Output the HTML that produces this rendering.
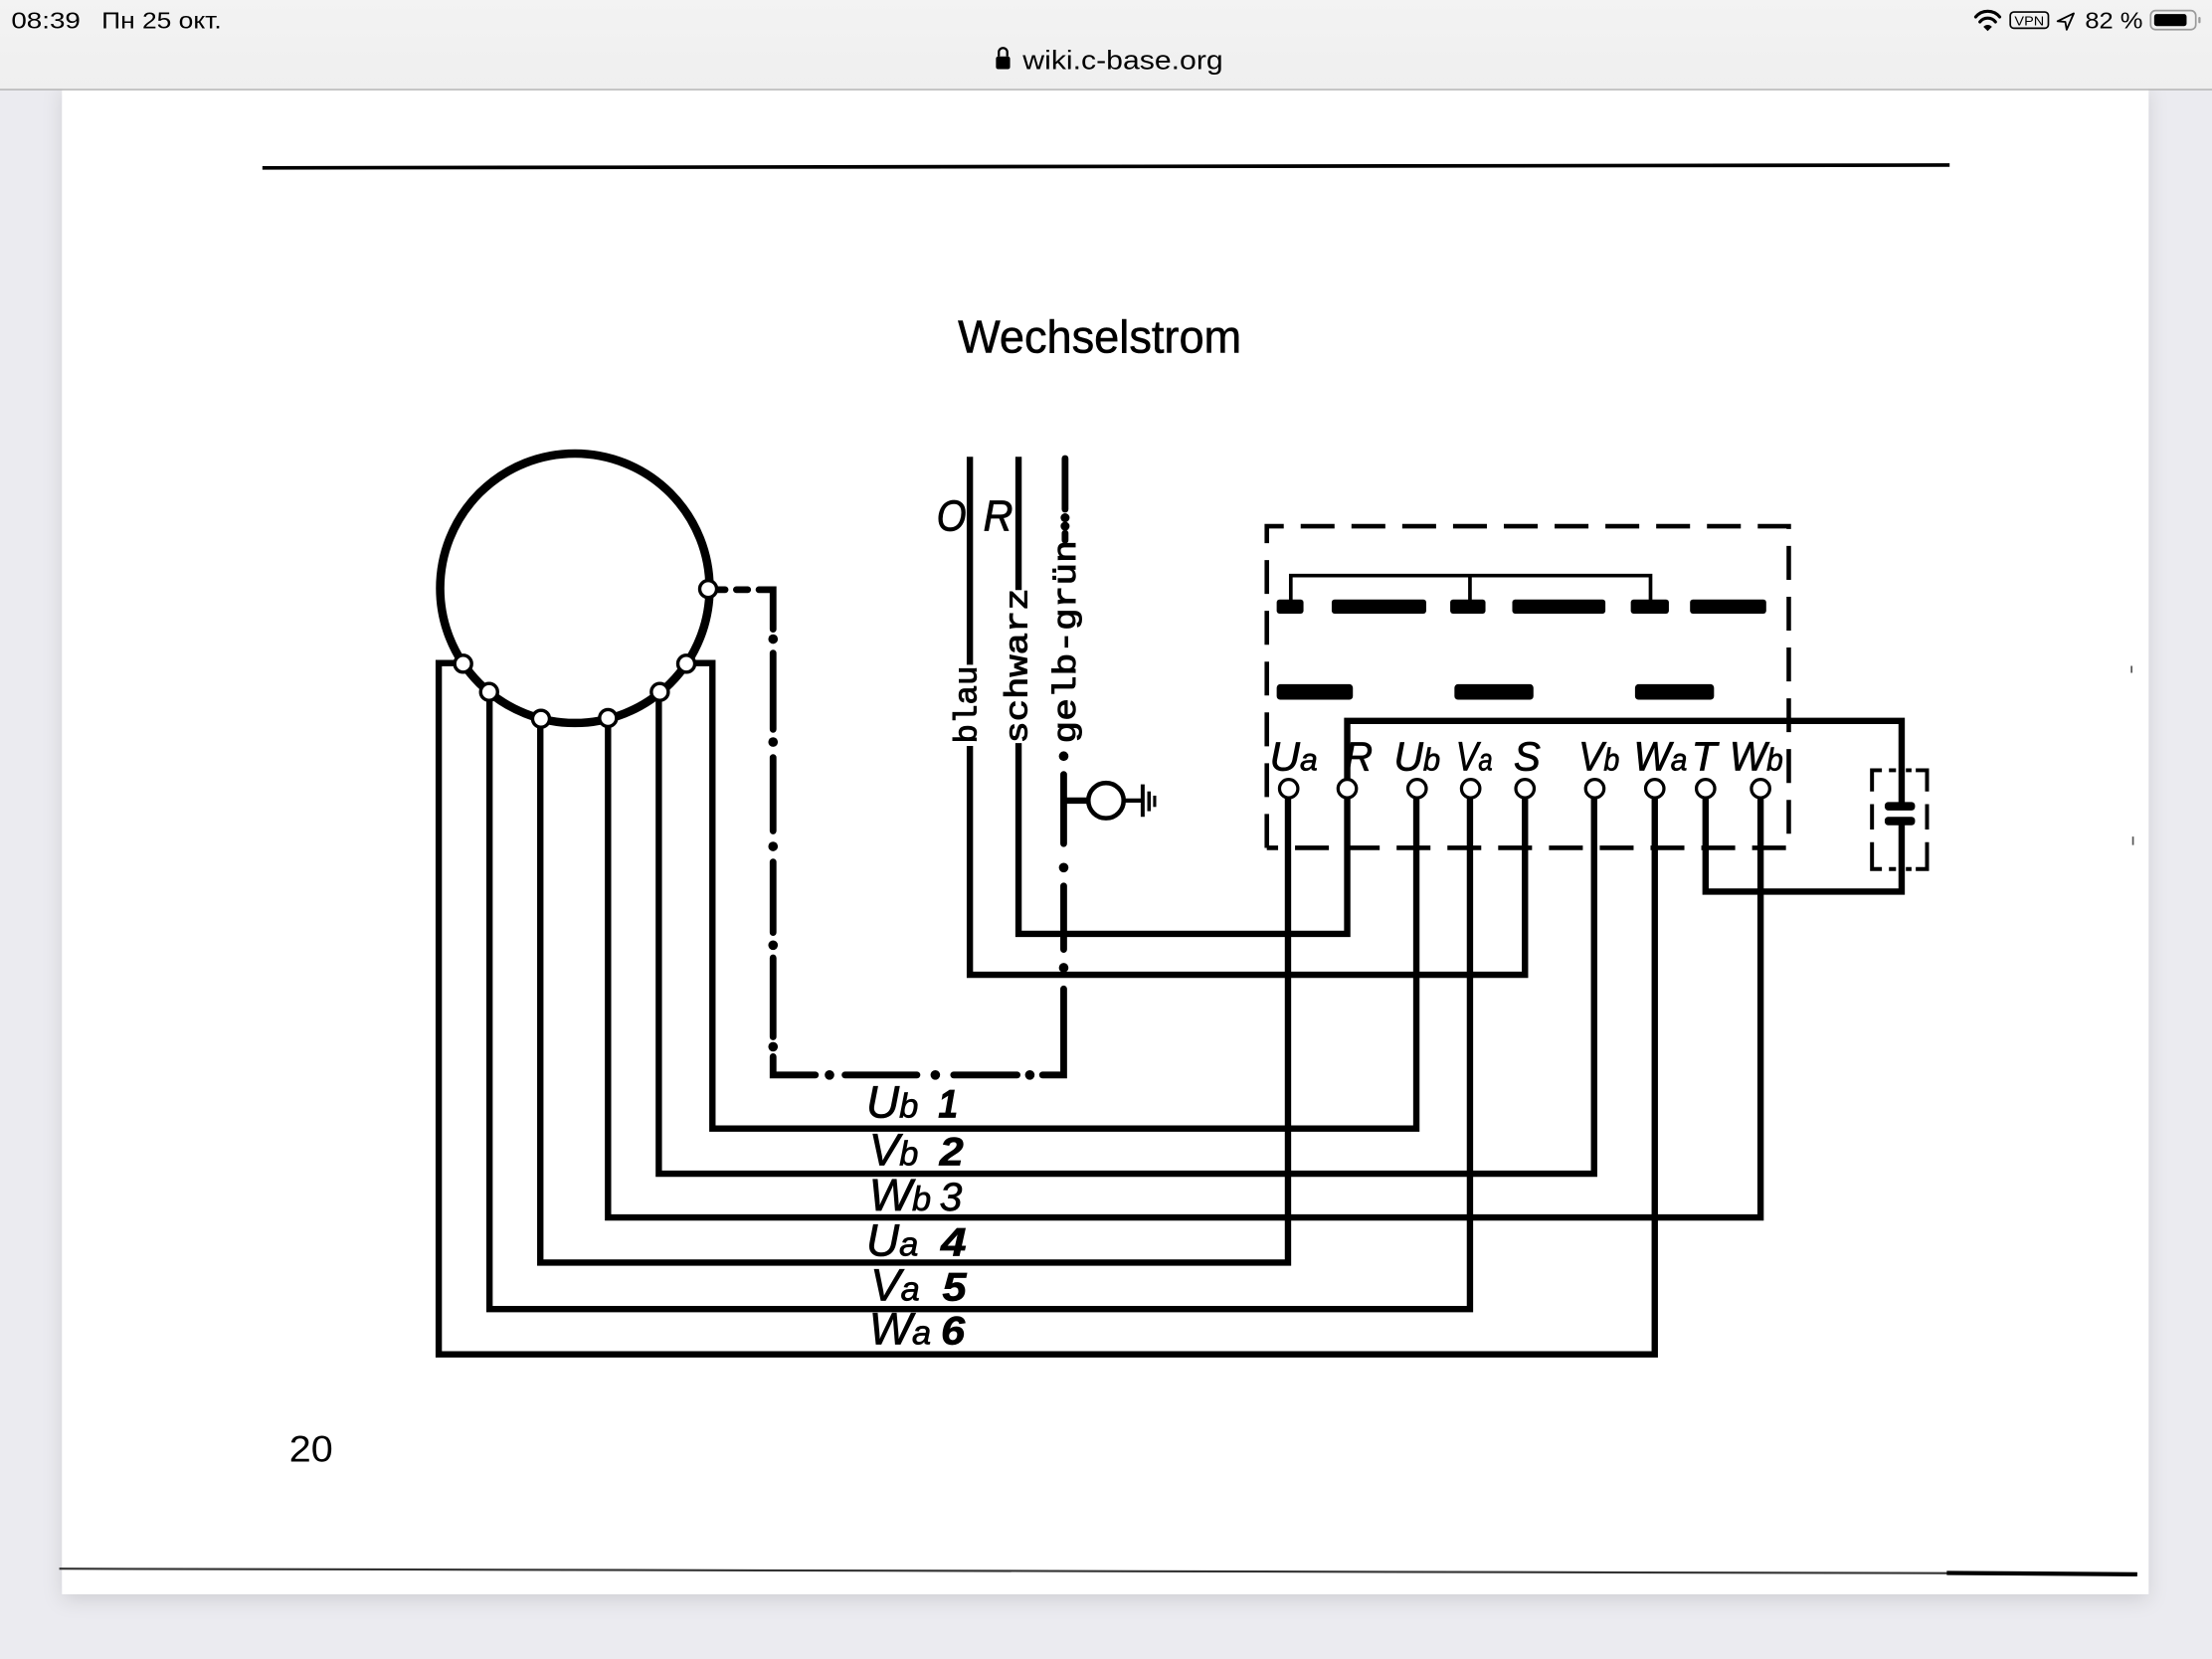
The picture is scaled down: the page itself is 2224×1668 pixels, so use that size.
<!DOCTYPE html>
<html><head><meta charset="utf-8"><style>
html,body{margin:0;padding:0;background:#ebebf0;}
svg{display:block;}
</style></head><body>
<svg xmlns="http://www.w3.org/2000/svg" width="2224" height="1668" viewBox="0 0 1568 1176">
<defs>
<filter id="sh" x="-5%" y="-5%" width="110%" height="115%">
<feDropShadow dx="0" dy="4" stdDeviation="7" flood-color="#000" flood-opacity="0.12"/>
</filter>
<linearGradient id="sb" x1="0" y1="0" x2="0" y2="1"><stop offset="0" stop-color="#f3f3f3"/><stop offset="1" stop-color="#efefef"/></linearGradient>
</defs>
<rect x="0" y="0" width="1568" height="1176" fill="#ebebf0"/>
<!-- page -->
<rect x="44" y="60" width="1479" height="1070" fill="#ffffff" filter="url(#sh)"/>
<rect x="44" y="60" width="1479" height="1070" fill="#ffffff"/>
<!-- status bar -->
<rect x="0" y="0" width="1568" height="63" fill="url(#sb)"/>
<line x1="0" y1="63.5" x2="1568" y2="63.5" stroke="#b9b9b9" stroke-width="1.2"/>
<g font-family="Liberation Sans, DejaVu Sans, sans-serif" fill="#000">
<text x="8" y="20" font-size="16.5" textLength="49" lengthAdjust="spacingAndGlyphs">08:39</text>
<text x="72" y="20" font-size="16.5" textLength="85" lengthAdjust="spacingAndGlyphs">Пн 25 окт.</text>
<text x="725" y="49" font-size="19" textLength="142" lengthAdjust="spacingAndGlyphs">wiki.c-base.org</text>
<text x="1478" y="20" font-size="16.5" textLength="41" lengthAdjust="spacingAndGlyphs">82 %</text>
</g>
<!-- lock -->
<rect x="706" y="40" width="10" height="9" rx="1.5" fill="#000"/>
<path d="M708,40 V37 a3,3 0 0 1 6,0 V40" fill="none" stroke="#000" stroke-width="1.6"/>
<!-- wifi -->
<g fill="none" stroke="#000" stroke-width="2.2" stroke-linecap="round">
<path d="M1400.5,12 a11,11 0 0 1 17,0"/>
<path d="M1403.5,15.5 a7,7 0 0 1 11,0"/>
</g>
<path d="M1406,19 l3,3 l3,-3 a4,4 0 0 0 -6,0z" fill="#000"/>
<!-- VPN -->
<rect x="1425" y="8.5" width="27" height="11.5" rx="2.5" fill="none" stroke="#000" stroke-width="1.2"/>
<text x="1438.5" y="18" font-family="Liberation Sans, sans-serif" font-size="9" text-anchor="middle" textLength="21" lengthAdjust="spacingAndGlyphs">VPN</text>
<!-- location arrow -->
<path d="M1470,9.5 L1458.5,15 L1464,15.5 L1465,21 Z" fill="none" stroke="#000" stroke-width="1.3" stroke-linejoin="round"/>
<!-- battery -->
<rect x="1524.5" y="7.5" width="32" height="13.5" rx="3.5" fill="none" stroke="#9a9a9a" stroke-width="1.2"/>
<rect x="1527" y="10" width="23" height="8.5" rx="1.8" fill="#000"/>
<rect x="1558.3" y="12" width="1.6" height="4.5" rx="0.8" fill="#9a9a9a"/>

<!-- top rule -->
<path d="M186,119 L1382,117" stroke="#000" stroke-width="2.6"/>
<!-- bottom rule -->
<path d="M42,1112 L1515,1115.5" stroke="#333" stroke-width="1.5"/>
<path d="M1380,1115 L1515,1116" stroke="#000" stroke-width="3"/>

<!-- title -->
<text x="679" y="250" font-family="Liberation Sans, Arial, sans-serif" font-size="33" textLength="201" lengthAdjust="spacingAndGlyphs" stroke="#000" stroke-width="0.4">Wechselstrom</text>
<text x="205" y="1036" font-family="Liberation Sans, Arial, sans-serif" font-size="26" textLength="31" lengthAdjust="spacingAndGlyphs">20</text>

<!-- big circle -->
<circle cx="407.5" cy="417" r="95.5" fill="none" stroke="#000" stroke-width="6"/>

<!-- main wires -->
<g fill="none" stroke="#000" stroke-width="4.5" stroke-linejoin="miter" stroke-linecap="square">
<path d="M328,470 H311 V960 H1173 V560"/>
<path d="M347,490 V928 H1042 V560"/>
<path d="M383,510 V895 H913 V560"/>
<path d="M431,509 V863 H1248 V560"/>
<path d="M467,491 V832 H1130 V560"/>
<path d="M486,470 H505 V800 H1004 V560"/>
<!-- blau -->
<path d="M687.5,326 V469"/>
<path d="M687.5,531 V691 H1081 V560"/>
<!-- schwarz -->
<path d="M722,326 V416"/>
<path d="M722,529 V662 H955 V560"/>
<!-- R to capacitor -->
<path d="M955,560 V511 H1348 V571"/>
<!-- T to capacitor -->
<path d="M1209,560 V632 H1348 V583"/>
</g>

<!-- dash-dot protective earth -->
<g fill="none" stroke="#000" stroke-width="4.8" stroke-linecap="round">
<path d="M508,418 H514 M522,418 H530 M538,418 H548 V446"/>
<path d="M548,463 V517 M548,537 V589 M548,611 V661 M548,679 V735 M548,749 V762 H578 M599,762 H650 M676,762 H721 M739,762 H754 V701 M754,673 V628 M754,598 V549"/>
<path d="M755,325 V361 M755,378 V383"/>
</g>
<g fill="#000">
<circle cx="548" cy="453" r="3.4"/><circle cx="548" cy="526" r="3.4"/><circle cx="548" cy="600" r="3.4"/>
<circle cx="548" cy="670" r="3.4"/><circle cx="548" cy="742" r="3.4"/>
<circle cx="588" cy="762" r="3.4"/><circle cx="663" cy="762" r="3.4"/><circle cx="730" cy="762" r="3.4"/>
<circle cx="754" cy="686" r="3.4"/><circle cx="754" cy="615" r="3.4"/><circle cx="754" cy="536" r="3.4"/>
<circle cx="755" cy="367" r="3.2"/><circle cx="755" cy="373" r="3.2"/>
</g>
<!-- ground symbol -->
<g fill="none" stroke="#000">
<path d="M754,567.5 H771" stroke-width="4.5"/>
<circle cx="784" cy="567.5" r="12.5" stroke-width="3.2"/>
<path d="M796.5,567.5 H809" stroke-width="3"/>
<path d="M810,556 V579" stroke-width="2.8"/>
<path d="M814.5,561 V575" stroke-width="2.5"/>
<path d="M818.5,564 V572" stroke-width="2.2"/>
</g>

<!-- wire labels (rotated) -->
<g font-family="Liberation Mono, DejaVu Sans Mono, monospace" font-size="23" fill="#000" stroke="#000" stroke-width="0.7">
<text transform="translate(692,527) rotate(-90)" textLength="55" lengthAdjust="spacingAndGlyphs">blau</text>
<text transform="translate(728,527) rotate(-90)" textLength="110" lengthAdjust="spacingAndGlyphs">schwarz</text>
<text transform="translate(762,527) rotate(-90)" textLength="144" lengthAdjust="spacingAndGlyphs">gelb-grün</text>
</g>
<g font-family="Liberation Sans, DejaVu Sans, sans-serif" font-style="italic" fill="#000" stroke="#000" stroke-width="0.6">
<text x="664" y="376" font-size="31" textLength="21" lengthAdjust="spacingAndGlyphs">O</text>
<text x="697" y="376" font-size="31" textLength="21" lengthAdjust="spacingAndGlyphs">R</text>
</g>

<!-- nodes on circle -->
<g fill="#fff" stroke="#000" stroke-width="2.4">
<circle cx="502" cy="417.5" r="6"/>
<circle cx="328.3" cy="470.5" r="6"/>
<circle cx="346.7" cy="490.5" r="6"/>
<circle cx="383.5" cy="509.5" r="6"/>
<circle cx="431" cy="509" r="6"/>
<circle cx="467.7" cy="490.5" r="6"/>
<circle cx="486.5" cy="470.5" r="6"/>
</g>

<!-- terminal box -->
<path d="M898,601 V373 H1268 V601 H898" fill="none" stroke="#000" stroke-width="3.2" stroke-dasharray="24 12"/>
<path d="M915,430 V408 H1170 V430 M1042,408 V430" fill="none" stroke="#000" stroke-width="2.6"/>
<g fill="#000">
<rect x="905" y="425" width="19" height="10" rx="2"/>
<rect x="944" y="425" width="67" height="10" rx="2"/>
<rect x="1028" y="425" width="25" height="10" rx="2"/>
<rect x="1072" y="425" width="66" height="10" rx="2"/>
<rect x="1156" y="425" width="27" height="10" rx="2"/>
<rect x="1198" y="425" width="54" height="10" rx="2"/>
<rect x="905" y="485" width="54" height="11" rx="2.5"/>
<rect x="1031" y="485" width="56" height="11" rx="2.5"/>
<rect x="1159" y="485" width="56" height="11" rx="2.5"/>
</g>
<!-- terminal labels -->
<g font-family="Liberation Sans, DejaVu Sans, sans-serif" font-style="italic" fill="#000" font-size="29" stroke="#000" stroke-width="0.5">
<text x="900" y="546" textLength="34" lengthAdjust="spacingAndGlyphs">U<tspan font-size="22">a</tspan></text>
<text x="953" y="546" textLength="20" lengthAdjust="spacingAndGlyphs">R</text>
<text x="988" y="546" textLength="33" lengthAdjust="spacingAndGlyphs">U<tspan font-size="22">b</tspan></text>
<text x="1032" y="546" textLength="26" lengthAdjust="spacingAndGlyphs">V<tspan font-size="22">a</tspan></text>
<text x="1073" y="546" textLength="19" lengthAdjust="spacingAndGlyphs">S</text>
<text x="1119" y="546" textLength="29" lengthAdjust="spacingAndGlyphs">V<tspan font-size="22">b</tspan></text>
<text x="1158" y="546" textLength="38" lengthAdjust="spacingAndGlyphs">W<tspan font-size="22">a</tspan></text>
<text x="1199" y="546" textLength="18" lengthAdjust="spacingAndGlyphs">T</text>
<text x="1226" y="546" textLength="38" lengthAdjust="spacingAndGlyphs">W<tspan font-size="22">b</tspan></text>
</g>
<!-- terminal circles -->
<g fill="#fff" stroke="#000" stroke-width="2.3">
<circle cx="913.5" cy="559" r="6.5"/>
<circle cx="955" cy="559" r="6.5"/>
<circle cx="1004.5" cy="559" r="6.5"/>
<circle cx="1042.5" cy="559" r="6.5"/>
<circle cx="1081" cy="559" r="6.5"/>
<circle cx="1130.5" cy="559" r="6.5"/>
<circle cx="1173" cy="559" r="6.5"/>
<circle cx="1209" cy="559" r="6.5"/>
<circle cx="1248" cy="559" r="6.5"/>
</g>

<!-- capacitor -->
<rect x="1336" y="568.5" width="21.5" height="6" rx="2.5" fill="#000"/>
<rect x="1336" y="579" width="21.5" height="6" rx="2.5" fill="#000"/>
<g fill="none" stroke="#000" stroke-width="2.8">
<path d="M1334,546 H1327 V561"/>
<path d="M1339,546 H1344 M1351,546 H1355"/>
<path d="M1358,546 H1366 V561"/>
<path d="M1327,570 V588 M1366,570 V588"/>
<path d="M1327,597 V616 H1334 M1366,597 V616 H1358"/>
<path d="M1339,616 H1344 M1351,616 H1355"/>
</g>

<!-- bottom wire labels -->
<g font-family="Liberation Sans, DejaVu Sans, sans-serif" font-style="italic" fill="#000" stroke="#000" stroke-width="0.5">
<text x="614" y="792" font-size="32" textLength="37" lengthAdjust="spacingAndGlyphs">U<tspan font-size="24">b</tspan></text>
<text x="665" y="792" font-size="28" font-weight="bold" textLength="14" lengthAdjust="spacingAndGlyphs">1</text>
<text x="616" y="826" font-size="32" textLength="35" lengthAdjust="spacingAndGlyphs">V<tspan font-size="24">b</tspan></text>
<text x="666" y="826" font-size="28" font-weight="bold" textLength="17" lengthAdjust="spacingAndGlyphs">2</text>
<text x="616" y="858" font-size="32" textLength="44" lengthAdjust="spacingAndGlyphs">W<tspan font-size="24">b</tspan></text>
<text x="666" y="858" font-size="28" textLength="16" lengthAdjust="spacingAndGlyphs">3</text>
<text x="614" y="890" font-size="32" textLength="37" lengthAdjust="spacingAndGlyphs">U<tspan font-size="24">a</tspan></text>
<text x="667" y="890" font-size="28" font-weight="bold" textLength="18" lengthAdjust="spacingAndGlyphs">4</text>
<text x="617" y="922" font-size="32" textLength="35" lengthAdjust="spacingAndGlyphs">V<tspan font-size="24">a</tspan></text>
<text x="668" y="922" font-size="28" font-weight="bold" textLength="17" lengthAdjust="spacingAndGlyphs">5</text>
<text x="616" y="953" font-size="32" textLength="44" lengthAdjust="spacingAndGlyphs">W<tspan font-size="24">a</tspan></text>
<text x="667" y="953" font-size="28" font-weight="bold" textLength="17" lengthAdjust="spacingAndGlyphs">6</text>
</g>

<!-- tiny specks -->
<path d="M1511,472 v5 M1512,593 v6" stroke="#555" stroke-width="1.2"/>
</svg>
</body></html>
